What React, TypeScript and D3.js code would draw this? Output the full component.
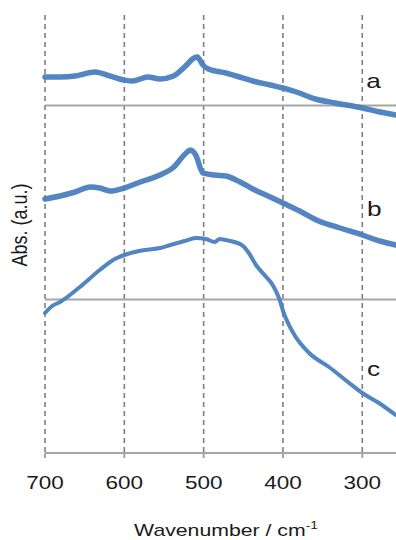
import React, { useEffect, useRef } from 'react';
import * as d3 from 'd3';

// wavenumber (cm-1), absorbance (a.u., stacked with offsets)
const spectrumA: [number, number][] = [
  [700, 3.76], [681, 3.76], [662, 3.77], [637, 3.81], [618, 3.77], [600, 3.73],
  [590, 3.72], [570, 3.76], [555, 3.74], [538, 3.77], [524, 3.86], [512, 3.95],
  [508, 3.96], [501, 3.88], [494, 3.84], [472, 3.80], [459, 3.77], [438, 3.72],
  [416, 3.68], [400, 3.65], [383, 3.61], [359, 3.54], [334, 3.50], [300, 3.45],
  [278, 3.41], [258, 3.38],
];

const spectrumB: [number, number][] = [
  [700, 2.54], [681, 2.57], [662, 2.61], [643, 2.66], [631, 2.65], [618, 2.62],
  [600, 2.65], [580, 2.71], [555, 2.78], [539, 2.85], [522, 3.00], [517, 3.03],
  [510, 2.98], [501, 2.80], [486, 2.78], [472, 2.77], [454, 2.71], [438, 2.64],
  [416, 2.56], [400, 2.50], [379, 2.42], [355, 2.32], [328, 2.25], [300, 2.18],
  [278, 2.12], [258, 2.08],
];

const spectrumC: [number, number][] = [
  [700, 1.40], [691, 1.47], [681, 1.51], [656, 1.66], [631, 1.83], [612, 1.94],
  [600, 1.98], [587, 2.01], [574, 2.03], [555, 2.05], [542, 2.08], [524, 2.12],
  [510, 2.15], [497, 2.14], [486, 2.11], [480, 2.14], [472, 2.13], [452, 2.08],
  [443, 2.00], [434, 1.88], [421, 1.76], [413, 1.68], [405, 1.55], [399, 1.40],
  [387, 1.20], [367, 1.00], [342, 0.86], [318, 0.71], [300, 0.60], [279, 0.50],
  [258, 0.38],
];

const series = [
  { name: 'a', values: spectrumA, width: 5.5, baseline: 3.475 },
  { name: 'b', values: spectrumB, width: 5.5, baseline: null },
  { name: 'c', values: spectrumC, width: 4, baseline: 1.535 },
];

const labelPos: { name: string; w: number; v: number }[] = [
  { name: 'a', w: 295, v: 3.65 },
  { name: 'b', w: 294, v: 2.37 },
  { name: 'c', w: 294, v: 0.77 },
];

const xTicks = [700, 600, 500, 400, 300];

const FONT = '"Liberation Sans", Arial, sans-serif';
const STRETCH = 1.25;

const App = () => {
  const ref = useRef<SVGSVGElement>(null);

  useEffect(() => {
    const W = 396;
    const H = 540;
    const svg = d3.select(ref.current).attr('width', W).attr('height', H);
    svg.selectAll('*').remove();

    const x = d3.scaleLinear().domain([700, 257.5]).range([45, 396]);
    const y = d3.scaleLinear().domain([0, 4.38]).range([453, 15]);

    // dashed vertical gridlines
    svg.append('g')
      .selectAll('line')
      .data(xTicks)
      .enter()
      .append('line')
      .attr('x1', d => x(d))
      .attr('x2', d => x(d))
      .attr('y1', y(4.38))
      .attr('y2', y(0))
      .attr('stroke', '#7f7f7f')
      .attr('stroke-width', 1.6)
      .attr('stroke-dasharray', '5,4');

    // baselines
    svg.append('g')
      .selectAll('line')
      .data(series.filter(s => s.baseline !== null))
      .enter()
      .append('line')
      .attr('x1', x(700))
      .attr('x2', x(257.5))
      .attr('y1', d => y(d.baseline as number))
      .attr('y2', d => y(d.baseline as number))
      .attr('stroke', '#a6a6a6')
      .attr('stroke-width', 2.2);

    // x axis
    const axis = svg.append('g');
    axis.append('line')
      .attr('x1', x(700))
      .attr('x2', x(257.5))
      .attr('y1', y(0))
      .attr('y2', y(0))
      .attr('stroke', '#a6a6a6')
      .attr('stroke-width', 2.2);
    axis.selectAll('line.tick')
      .data(xTicks)
      .enter()
      .append('line')
      .attr('class', 'tick')
      .attr('x1', d => x(d))
      .attr('x2', d => x(d))
      .attr('y1', y(0))
      .attr('y2', y(0) + 5)
      .attr('stroke', '#a6a6a6')
      .attr('stroke-width', 2);
    axis.selectAll('text')
      .data(xTicks)
      .enter()
      .append('text')
      .attr('transform', d => `translate(${x(d)},489) scale(${STRETCH},1)`)
      .attr('text-anchor', 'middle')
      .attr('font-family', FONT)
      .attr('font-size', 18)
      .attr('fill', '#1a1a1a')
      .text(d => d);

    // spectra
    const line = d3.line<[number, number]>()
      .x(d => x(d[0]))
      .y(d => y(d[1]))
      .curve(d3.curveMonotoneX);

    svg.append('g')
      .selectAll('path')
      .data(series)
      .enter()
      .append('path')
      .attr('d', d => line(d.values))
      .attr('fill', 'none')
      .attr('stroke', '#4a7ebf')
      .attr('stroke-width', d => d.width)
      .attr('stroke-linejoin', 'round')
      .attr('stroke-linecap', 'round')
      .attr('opacity', 0.95);

    // curve labels
    svg.append('g')
      .selectAll('text')
      .data(labelPos)
      .enter()
      .append('text')
      .attr('transform', d => `translate(${x(d.w)},${y(d.v)}) scale(${STRETCH},1)`)
      .attr('font-family', FONT)
      .attr('font-size', 21)
      .attr('fill', '#1a1a1a')
      .text(d => d.name);

    // axis titles
    const xt = svg.append('text')
      .attr('transform', `translate(226,536) scale(${STRETCH},1)`)
      .attr('text-anchor', 'middle')
      .attr('font-family', FONT)
      .attr('font-size', 17)
      .attr('fill', '#1a1a1a');
    xt.append('tspan').text('Wavenumber / cm');
    xt.append('tspan').attr('dy', -7).attr('font-size', 11).text('-1');

    svg.append('text')
      .attr('transform', `translate(26.5,225) scale(${STRETCH},1) rotate(-90)`)
      .attr('text-anchor', 'middle')
      .attr('font-family', FONT)
      .attr('font-size', 18)
      .attr('fill', '#1a1a1a')
      .text('Abs. (a.u.)');
  }, []);

  return (
    <svg ref={ref} style={{ position: 'absolute', left: 0, top: 0 }}></svg>
  );
};

export default App;
